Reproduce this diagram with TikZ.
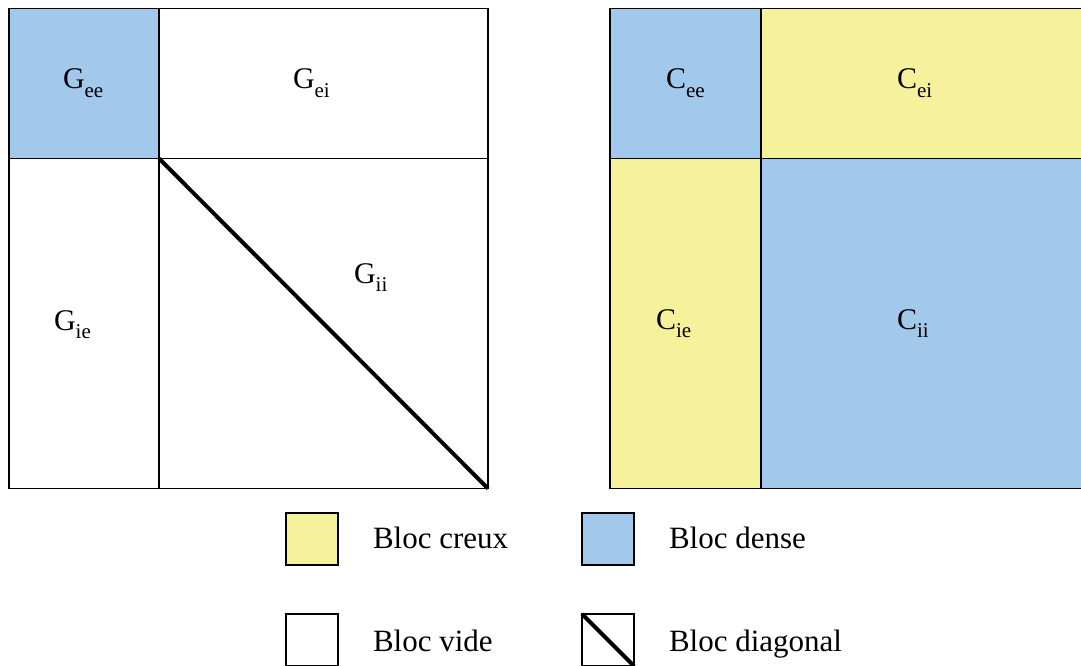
\documentclass[tikz,border=0pt]{standalone}
\usepackage{fontspec}
\setmainfont{Liberation Serif}
\definecolor{dense}{RGB}{162,200,236}
\definecolor{creux}{RGB}{246,241,155}
\newcommand{\blab}[2]{{\fontsize{30}{32}\selectfont #1\raisebox{-8.5pt}{\fontsize{21}{23}\selectfont #2}}}
\begin{document}
\begin{tikzpicture}[x=1pt,y=-1pt,
  blk/.style={draw=black,line width=1.7pt,inner sep=0pt,outer sep=0pt,anchor=north west,rectangle},
  lab/.style={anchor=base west,inner sep=0pt,outer sep=0pt},
  legtxt/.style={anchor=base west,inner sep=0pt,outer sep=0pt,font=\fontsize{31}{33}\selectfont},
  diag/.style={line width=4pt}]
\useasboundingbox (0,0) rectangle (1081,666);
% left matrix
\node[blk,fill=dense,minimum width=150pt,minimum height=150pt] (gee) at (9,8.5) {};
\node[blk,fill=white,minimum width=329pt,minimum height=150pt] (gei) at (159,8.5) {};
\node[blk,fill=white,minimum width=150pt,minimum height=330pt] (gie) at (9,158.5) {};
\node[blk,fill=white,minimum width=329pt,minimum height=330pt] (gii) at (159,158.5) {};
\draw[diag] (gii.north west) -- (gii.south east);
\node[lab] (tgee) at (63,89) {\blab{G}{ee}};
\node[lab] (tgei) at (293,89) {\blab{G}{ei}};
\node[lab] (tgie) at (54,330) {\blab{G}{ie}};
\node[lab] (tgii) at (354,283) {\blab{G}{ii}};
% right matrix
\node[blk,fill=dense,minimum width=151pt,minimum height=150pt] (cee) at (610,8.5) {};
\node[blk,fill=creux,minimum width=329pt,minimum height=150pt] (cei) at (761,8.5) {};
\node[blk,fill=creux,minimum width=151pt,minimum height=330pt] (cie) at (610,158.5) {};
\node[blk,fill=dense,minimum width=329pt,minimum height=330pt] (cii) at (761,158.5) {};
\node[lab] (tcee) at (666,89) {\blab{C}{ee}};
\node[lab] (tcei) at (897,89) {\blab{C}{ei}};
\node[lab] (tcie) at (656,329) {\blab{C}{ie}};
\node[lab] (tcii) at (897,329) {\blab{C}{ii}};
% legend
\node[blk,fill=creux,minimum width=52pt,minimum height=52pt] (lcreux) at (286,513) {};
\node[blk,fill=dense,minimum width=52pt,minimum height=52pt] (ldense) at (582,513) {};
\node[blk,fill=white,minimum width=52pt,minimum height=52pt] (lvide) at (286,614) {};
\node[blk,fill=white,minimum width=52pt,minimum height=52pt] (ldiag) at (582,614) {};
\draw[diag] (ldiag.north west) -- (ldiag.south east);
\node[legtxt] (tcreux) at (373,548) {Bloc creux};
\node[legtxt] (tdense) at (669,548) {Bloc dense};
\node[legtxt] (tvide) at (373,651) {Bloc vide};
\node[legtxt] (tdiag) at (669,651) {Bloc diagonal};
\end{tikzpicture}
\end{document}
